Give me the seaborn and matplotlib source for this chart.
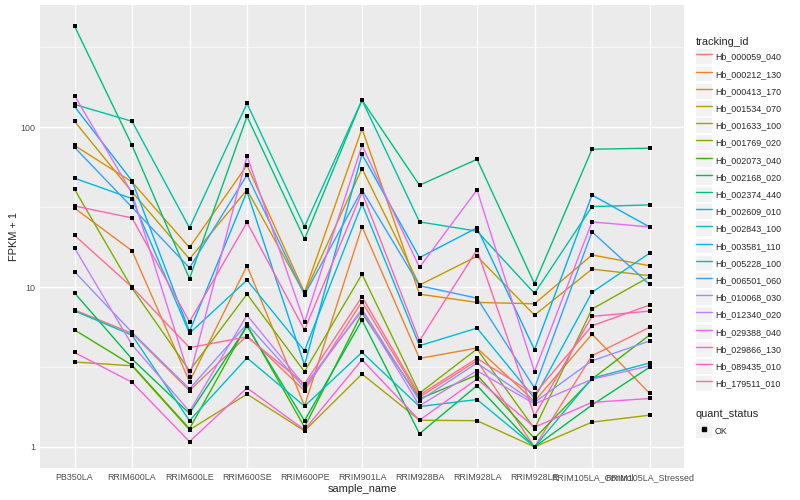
import numpy as np
import pandas as pd
import matplotlib
matplotlib.use("Agg")
import matplotlib.pyplot as plt
import seaborn as sns
from matplotlib.lines import Line2D
from matplotlib.patches import Rectangle
from matplotlib.ticker import FixedLocator, NullFormatter

# sample order on the x axis
samples = ["PB350LA", "RRIM600LA", "RRIM600LE", "RRIM600SE", "RRIM600PE",
           "RRIM901LA", "RRIM928BA", "RRIM928LA", "RRIM928LE",
           "RRIM105LA_Control", "RRIM105LA_Stressed"]

tracking_ids = ["Hb_000059_040", "Hb_000212_130", "Hb_000413_170", "Hb_001534_070",
                "Hb_001633_100", "Hb_001769_020", "Hb_002073_040", "Hb_002168_020",
                "Hb_002374_440", "Hb_002609_010", "Hb_002843_100", "Hb_003581_110",
                "Hb_005228_100", "Hb_006501_060", "Hb_010068_030", "Hb_012340_020",
                "Hb_029388_040", "Hb_029866_130", "Hb_089435_010", "Hb_179511_010"]

# FPKM + 1, one list per gene, in sample order
hb_000059_040 = [7.2, 5.14, 2.25, 4.96, 2.25, 8.09, 2.05, 3.46, 1.0, 3.72, 5.6]
hb_000212_130 = [31.2, 16.9, 2.56, 13.6, 1.81, 23.9, 3.58, 4.16, 1.93, 5.08, 2.17]
hb_000413_170 = [77, 45.5, 17.7, 57.9, 9.27, 98, 9.04, 8.02, 7.87, 15.9, 13.6]
hb_001534_070 = [109, 39.4, 15.0, 40.6, 9.1, 55.2, 10.3, 15.6, 6.68, 12.96, 11.8]
hb_001633_100 = [3.4, 3.22, 1.28, 2.14, 1.26, 2.86, 1.47, 1.46, 1.0, 1.43, 1.58]
hb_001769_020 = [41, 9.86, 3.0, 9.04, 2.96, 12.05, 2.17, 4.1, 1.30, 7.29, 11.6]
hb_002073_040 = [5.4, 3.25, 1.30, 5.79, 1.33, 6.88, 2.0, 2.82, 1.13, 2.66, 5.01]
hb_002168_020 = [9.2, 3.55, 1.62, 5.68, 1.46, 6.22, 1.21, 2.42, 1.0, 1.83, 3.15]
hb_002374_440 = [430, 77.2, 11.3, 117, 19.95, 148, 43.4, 63.1, 10.5, 72.9, 74]
hb_002609_010 = [139, 109, 23.5, 141, 23.9, 148, 25.6, 22.4, 9.14, 31.9, 32.7]
hb_002843_100 = [7.1, 5.01, 1.46, 3.61, 1.8, 3.91, 1.79, 1.98, 1.0, 2.69, 3.35]
hb_003581_110 = [48, 35.8, 5.14, 11.06, 4.0, 33.2, 4.3, 5.54, 2.02, 9.27, 16.3]
hb_005228_100 = [135, 46.2, 5.28, 39.6, 3.25, 67.8, 15.3, 23.5, 4.06, 37.7, 23.8]
hb_006501_060 = [75, 31.6, 13.2, 50.3, 8.95, 40.5, 10.2, 8.53, 2.34, 22.2, 10.4]
hb_010068_030 = [12.5, 5.21, 2.31, 5.87, 2.34, 7.29, 1.95, 3.35, 1.90, 3.46, 4.6]
hb_012340_020 = [17.6, 4.36, 1.67, 6.68, 2.42, 7.11, 1.81, 3.0, 1.86, 2.65, 3.22]
hb_029388_040 = [158, 38.7, 2.73, 66.2, 6.02, 77, 13.3, 40.6, 2.96, 25.6, 23.8]
hb_029866_130 = [3.9, 2.54, 1.08, 2.34, 1.28, 3.51, 1.47, 2.66, 1.33, 1.90, 2.01]
hb_089435_010 = [32.2, 27.1, 6.07, 25.4, 5.39, 39.1, 4.62, 17.1, 1.57, 6.56, 7.08]
hb_179511_010 = [21.1, 10.0, 4.18, 4.89, 2.48, 8.7, 2.11, 3.58, 2.14, 5.73, 7.72]

series = [hb_000059_040, hb_000212_130, hb_000413_170, hb_001534_070, hb_001633_100,
          hb_001769_020, hb_002073_040, hb_002168_020, hb_002374_440, hb_002609_010,
          hb_002843_100, hb_003581_110, hb_005228_100, hb_006501_060, hb_010068_030,
          hb_012340_020, hb_029388_040, hb_029866_130, hb_089435_010, hb_179511_010]

# ggplot default hue palette for 20 levels
palette = ["#F8766D", "#EA8331", "#D89000", "#C09B00", "#A3A500", "#7CAE00", "#39B600",
           "#00BB4E", "#00BF7D", "#00C1A3", "#00BFC4", "#00BAE0", "#00B0F6", "#35A2FF",
           "#9590FF", "#C77CFF", "#E76BF3", "#FA62DB", "#FF62BC", "#FF6C91"]

rows = []
for tid, vals in zip(tracking_ids, series):
    for s, v in zip(samples, vals):
        rows.append({"tracking_id": tid, "sample_name": s, "fpkm": v, "quant_status": "OK"})
df = pd.DataFrame(rows)
df["sample_name"] = pd.Categorical(df["sample_name"], categories=samples, ordered=True)

sns.set_style("darkgrid", {"axes.facecolor": "#EBEBEB", "grid.color": "white"})
plt.rcParams["font.family"] = ["Liberation Sans", "DejaVu Sans"]

fig = plt.figure(figsize=(8, 5), dpi=100)
ax = fig.add_axes([40 / 800, 1 - 468 / 500, 644 / 800, 463 / 500])

sns.lineplot(data=df, x="sample_name", y="fpkm", hue="tracking_id", palette=palette,
             hue_order=tracking_ids, estimator=None, linewidth=1.0, legend=False, ax=ax)
sns.scatterplot(data=df, x="sample_name", y="fpkm", color="black", marker="s", s=10,
                linewidth=0, legend=False, ax=ax, zorder=3)

ax.set_yscale("log")
lo, hi = np.log10(df["fpkm"].min()), np.log10(df["fpkm"].max())
pad = (hi - lo) * 0.05
ax.set_ylim(10 ** (lo - pad), 10 ** (hi + pad))
ax.set_xlim(-0.6, len(samples) - 0.4)

ax.yaxis.set_major_locator(FixedLocator([1, 10, 100]))
ax.set_yticklabels(["1", "10", "100"])
ax.yaxis.set_minor_locator(FixedLocator([10 ** 0.5, 10 ** 1.5, 10 ** 2.5]))
ax.yaxis.set_minor_formatter(NullFormatter())
ax.grid(which="major", color="white", linewidth=1.0)
ax.grid(which="minor", axis="y", color="white", linewidth=0.5)
ax.set_axisbelow(True)
for sp in ax.spines.values():
    sp.set_visible(False)

ax.tick_params(axis="both", which="major", length=2.2, width=0.8, color="#333333",
               labelsize=6.4, labelcolor="#4D4D4D", pad=1.5)
ax.tick_params(axis="y", which="minor", length=0)
ax.set_xlabel("sample_name", fontsize=7.9, labelpad=1)
ax.set_ylabel("FPKM + 1", fontsize=7.9, labelpad=0.5)

# legends in ggplot style (grey key boxes)
def key_box():
    return Rectangle((0, 0), 1, 1, facecolor="#F2F2F2", edgecolor="none")

line_handles = [(key_box(), Line2D([], [], color=c, linewidth=1.0)) for c in palette]
leg1 = fig.legend(line_handles, tracking_ids, loc="upper left",
                  bbox_to_anchor=(696 / 800, 1 - 37 / 500), frameon=False,
                  title="tracking_id", title_fontsize=7.9, fontsize=6.4,
                  handlelength=1.75, handleheight=2.2, labelspacing=0.26,
                  handletextpad=0.4, borderpad=0, borderaxespad=0, alignment="left")

ok_handle = (key_box(), Line2D([], [], color="black", marker="s", markersize=2.6,
                                linestyle="none"))
leg2 = fig.legend([ok_handle], ["OK"], loc="upper left",
                  bbox_to_anchor=(696 / 800, 1 - 409 / 500), frameon=False,
                  title="quant_status", title_fontsize=7.9, fontsize=6.4,
                  handlelength=1.75, handleheight=2.2, handletextpad=0.4,
                  borderpad=0, borderaxespad=0, alignment="left")

fig.savefig("out.png", dpi=100)
